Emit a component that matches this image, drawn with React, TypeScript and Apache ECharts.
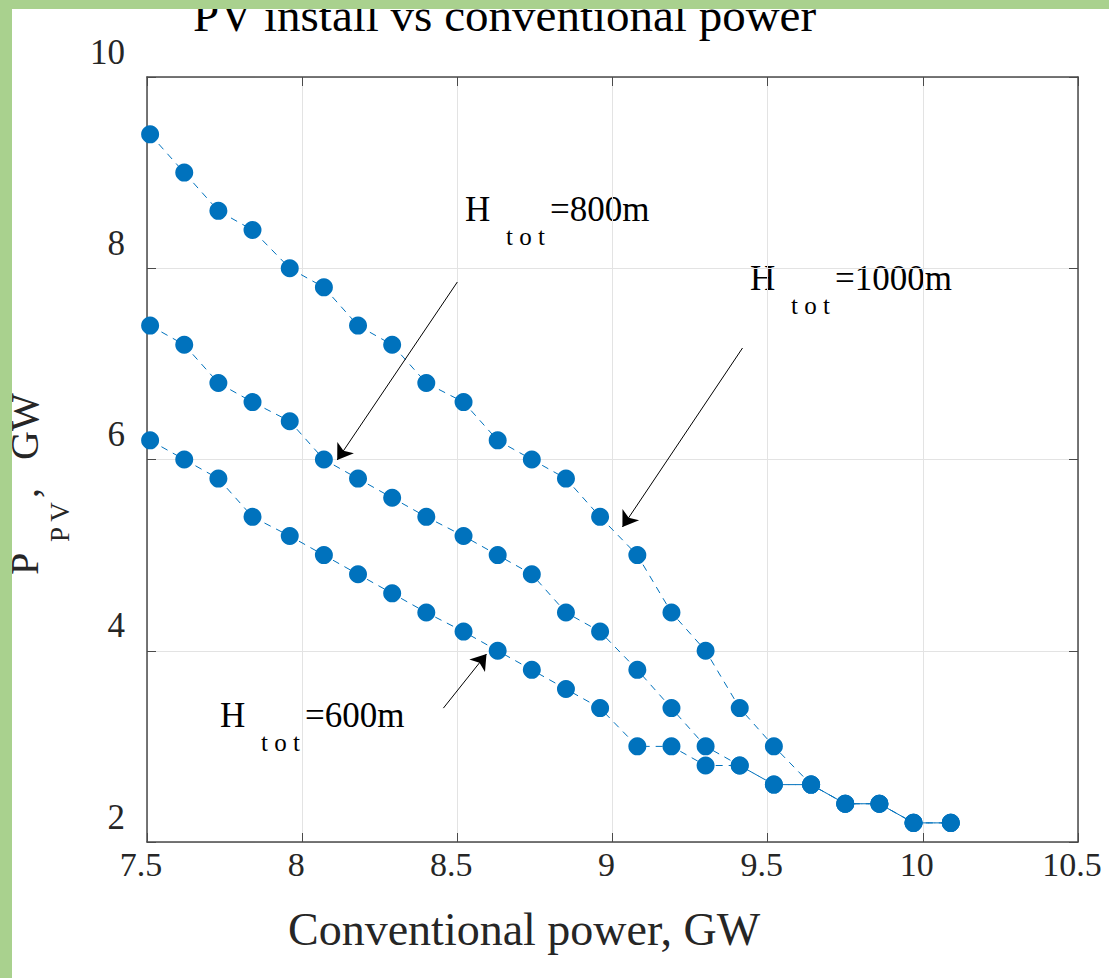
import React, { useEffect, useRef } from "react";
import * as echarts from "echarts";

// Conventional power (GW) at each operating point
const xValues = [
  7.51, 7.62, 7.73, 7.84, 7.96, 8.07, 8.18, 8.29, 8.4, 8.52, 8.63, 8.74,
  8.85, 8.96, 9.08, 9.19, 9.3, 9.41, 9.52, 9.64, 9.75, 9.86, 9.97, 10.09,
];

// Installed PV power (GW) for each total head
const pv600 = [
  6.2, 6.0, 5.8, 5.4, 5.2, 5.0, 4.8, 4.6, 4.4, 4.2, 4.0, 3.8, 3.6, 3.4, 3.0,
  3.0, 2.8, 2.8, 2.6, 2.6, 2.4, 2.4, 2.2, 2.2,
];
const pv800 = [
  7.4, 7.2, 6.8, 6.6, 6.4, 6.0, 5.8, 5.6, 5.4, 5.2, 5.0, 4.8, 4.4, 4.2, 3.8,
  3.4, 3.0, 2.8, 2.6, 2.6, 2.4, 2.4, 2.2, 2.2,
];
const pv1000 = [
  9.4, 9.0, 8.6, 8.4, 8.0, 7.8, 7.4, 7.2, 6.8, 6.6, 6.2, 6.0, 5.8, 5.4, 5.0,
  4.4, 4.0, 3.4, 3.0, 2.6, 2.4, 2.4, 2.2, 2.2,
];

const titleText = "PV install vs conventional power";
const xName = "Conventional power, GW";

const FONT = '"Liberation Serif", "DejaVu Serif", serif';
const BLUE = "#0072BD";
const AXIS = "#4a4a4a";
const GRID = "#e3e3e3";
const GREEN = "#a9d18e";

// Annotation arrows, [start, tip] in data units
const arrows: Record<string, number[][]> = {
  h600: [
    [8.455, 3.4],
    [8.594, 3.966],
  ],
  h800: [
    [8.5, 7.856],
    [8.113, 5.995],
  ],
  h1000: [
    [9.419, 7.166],
    [9.032, 5.294],
  ],
};

function lineSeries(name: string, ys: number[], arrow: number[][]) {
  return {
    name,
    type: "line",
    data: xValues.map((x, i) => [x, ys[i]]),
    symbol: "circle",
    symbolSize: 18,
    itemStyle: { color: BLUE },
    lineStyle: { color: BLUE, width: 1, type: [7, 6] },
    emphasis: { disabled: true },
    markLine: {
      silent: true,
      symbol: ["none", "arrow"],
      symbolSize: 15,
      lineStyle: { color: "#000", width: 1, type: "solid" },
      label: { show: false },
      emphasis: { disabled: true },
      data: [[{ coord: arrow[0] }, { coord: arrow[1] }]],
    },
  };
}

function label(x: number, y: number, main: string, value: string) {
  return [
    {
      type: "text",
      x,
      y,
      style: {
        text: "H",
        font: `35px ${FONT}`,
        fill: "#000",
        textAlign: "left",
        textVerticalAlign: "middle",
      },
    },
    {
      type: "text",
      x: x + 41,
      y: y + 27,
      style: {
        text: main,
        font: `25px ${FONT}`,
        fill: "#000",
        textAlign: "left",
        textVerticalAlign: "middle",
      },
    },
    {
      type: "text",
      x: x + 85,
      y,
      style: {
        text: value,
        font: `35px ${FONT}`,
        fill: "#000",
        textAlign: "left",
        textVerticalAlign: "middle",
      },
    },
  ];
}

export default function App() {
  const ref = useRef<HTMLDivElement>(null);

  useEffect(() => {
    if (!ref.current) return;
    const chart = echarts.init(ref.current, undefined, { renderer: "svg" });

    const valueAxisCommon = {
      type: "value",
      axisLine: { show: true, lineStyle: { color: AXIS, width: 1.5 } },
      axisTick: {
        show: true,
        inside: true,
        length: 9,
        lineStyle: { color: AXIS, width: 1 },
      },
    };

    chart.setOption({
      animation: false,
      backgroundColor: "#fff",
      grid: { left: 147, right: 31, top: 77, bottom: 136, containLabel: false },
      xAxis: [
        {
          ...valueAxisCommon,
          position: "bottom",
          min: 7.5,
          max: 10.5,
          interval: 0.5,
          splitLine: { show: true, lineStyle: { color: GRID, width: 1 } },
          axisLabel: {
            color: "#262626",
            fontFamily: FONT,
            fontSize: 34,
            margin: 5,
            padding: [0, 12, 0, 0],
          },
        },
        {
          ...valueAxisCommon,
          position: "top",
          min: 7.5,
          max: 10.5,
          interval: 0.5,
          splitLine: { show: false },
          axisLabel: { show: false },
        },
      ],
      yAxis: [
        {
          ...valueAxisCommon,
          position: "left",
          min: 2,
          max: 10,
          interval: 2,
          splitLine: { show: true, lineStyle: { color: GRID, width: 1 } },
          axisLabel: {
            color: "#262626",
            fontFamily: FONT,
            fontSize: 35,
            margin: 22,
            verticalAlign: "bottom",
            lineHeight: 50,
          },
        },
        {
          ...valueAxisCommon,
          position: "right",
          min: 2,
          max: 10,
          interval: 2,
          splitLine: { show: false },
          axisLabel: { show: false },
        },
      ],
      series: [
        lineSeries("H_tot=600m", pv600, arrows.h600),
        lineSeries("H_tot=800m", pv800, arrows.h800),
        lineSeries("H_tot=1000m", pv1000, arrows.h1000),
      ],
      graphic: [
        {
          type: "text",
          x: 193,
          y: 15,
          z: 1,
          style: {
            text: titleText,
            font: `47px ${FONT}`,
            fill: "#000",
            textAlign: "left",
            textVerticalAlign: "middle",
          },
        },
        {
          type: "text",
          x: 288,
          y: 929,
          z: 1,
          style: {
            text: xName,
            font: `46px ${FONT}`,
            fill: "#262626",
            textAlign: "left",
            textVerticalAlign: "middle",
          },
        },
        {
          type: "group",
          x: 38,
          y: 575,
          rotation: Math.PI / 2,
          z: 1,
          children: [
            {
              type: "text",
              x: 0,
              y: -14,
              style: {
                text: "P",
                font: `40px ${FONT}`,
                fill: "#262626",
                textAlign: "left",
                textVerticalAlign: "middle",
              },
            },
            {
              type: "text",
              x: 33,
              y: 22,
              style: {
                text: "P V",
                font: `27px ${FONT}`,
                fill: "#262626",
                textAlign: "left",
                textVerticalAlign: "middle",
              },
            },
            {
              type: "text",
              x: 77,
              y: -14,
              style: {
                text: ",",
                font: `40px ${FONT}`,
                fill: "#262626",
                textAlign: "left",
                textVerticalAlign: "middle",
              },
            },
            {
              type: "text",
              x: 115,
              y: -14,
              style: {
                text: "GW",
                font: `40px ${FONT}`,
                fill: "#262626",
                textAlign: "left",
                textVerticalAlign: "middle",
              },
            },
          ],
        },
        ...label(465, 209, "t o t", "=800m"),
        ...label(750, 278, "t o t", "=1000m"),
        ...label(220, 715, "t o t", "=600m"),
        {
          type: "rect",
          z: 100,
          shape: { x: 0, y: 0, width: 1109, height: 9 },
          style: { fill: GREEN },
        },
        {
          type: "rect",
          z: 100,
          shape: { x: 0, y: 0, width: 12, height: 978 },
          style: { fill: GREEN },
        },
      ],
    });

    return () => chart.dispose();
  }, []);

  return (
    <div
      ref={ref}
      style={{
        position: "fixed",
        left: 0,
        top: 0,
        width: 1109,
        height: 978,
        background: "#fff",
      }}
    />
  );
}
